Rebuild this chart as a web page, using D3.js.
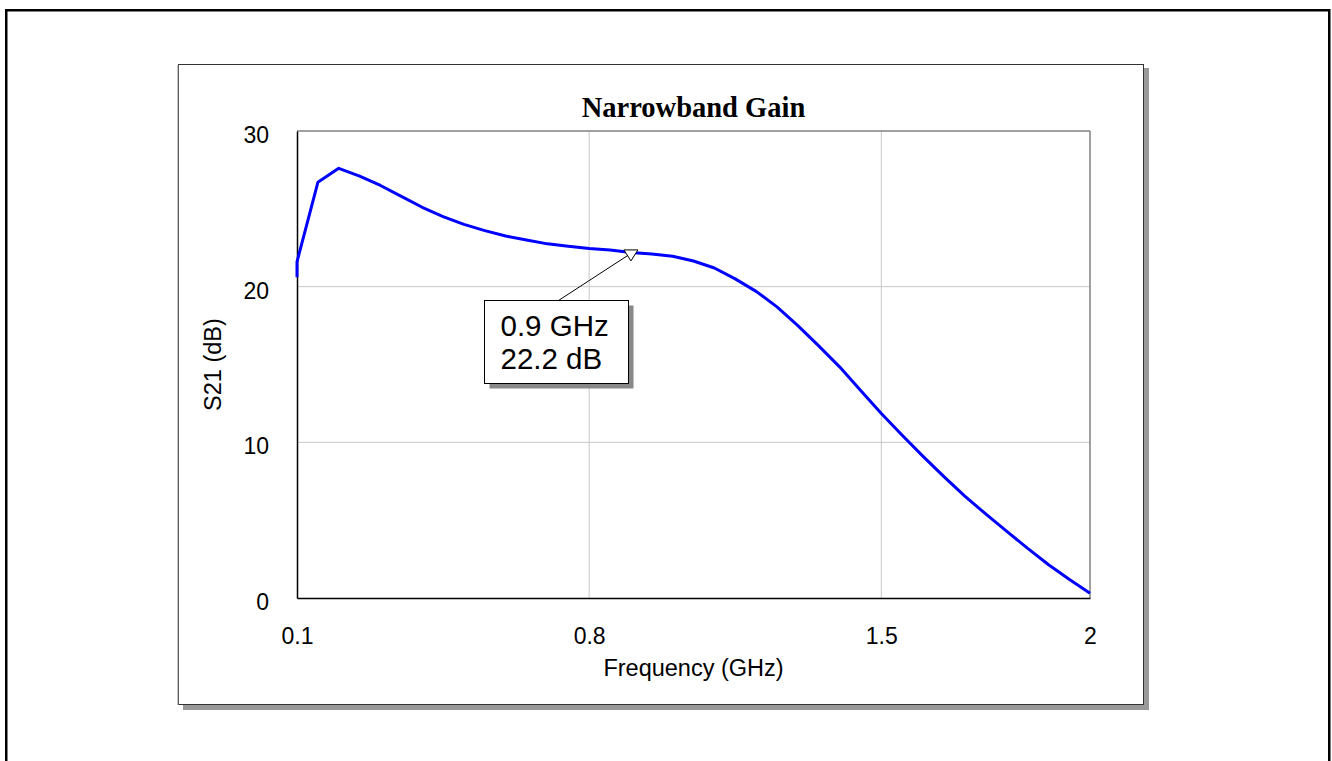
<!DOCTYPE html>
<html>
<head>
<meta charset="utf-8">
<script src="https://cdn.jsdelivr.net/npm/d3@7"></script>
<style>
  html, body { margin: 0; padding: 0; background: #fff; }
  svg { display: block; }
</style>
</head>
<body>
<svg id="chart" width="1332" height="761"></svg>
<script>
// ---- data ----
const freqGHz = [0.1, 0.1, 0.15, 0.2, 0.25, 0.3, 0.35, 0.4, 0.45, 0.5, 0.55, 0.6, 0.65, 0.7, 0.75, 0.8, 0.85, 0.9, 0.95, 1.0,
                 1.05, 1.1, 1.15, 1.2, 1.25, 1.3, 1.35, 1.4, 1.45, 1.5, 1.55, 1.6, 1.65, 1.7, 1.75, 1.8, 1.85, 1.9, 1.95, 2.0];
const s21dB = [20.6, 21.6, 26.7, 27.6, 27.1, 26.5, 25.8, 25.1, 24.5, 24.0, 23.6, 23.25, 23.0, 22.75, 22.6, 22.45, 22.35, 22.2, 22.1, 21.95,
               21.65, 21.2, 20.5, 19.7, 18.7, 17.5, 16.2, 14.85, 13.35, 11.85, 10.45, 9.1, 7.8, 6.55, 5.4, 4.3, 3.2, 2.15, 1.2, 0.3];
const xTicks = [0.1, 0.8, 1.5, 2];
const yTicks = [0, 10, 20, 30];
const xDomain = [0.1, 2];
const yDomain = [0, 30];
const titleText = "Narrowband Gain";
const xLabel = "Frequency (GHz)";
const yLabel = "S21 (dB)";
const markerFreq = 0.9;
const markerValue = 22.2;
const markerLines = ["0.9 GHz", "22.2 dB"];

// ---- layout ----
const svg = d3.select("#chart");
const plot = { left: 297, top: 131, right: 1090, bottom: 598 };
const x = d3.scaleLinear().domain(xDomain).range([plot.left, plot.right]);
const y = d3.scaleLinear().domain(yDomain).range([plot.bottom, plot.top]);

// outer border
svg.append("rect").attr("x", 6.25).attr("y", 10.25).attr("width", 1323).attr("height", 800)
  .attr("fill", "none").attr("stroke", "#000").attr("stroke-width", 2.5);

// inner frame shadow and frame
svg.append("rect").attr("x", 183).attr("y", 68).attr("width", 966).attr("height", 642).attr("fill", "#999");
svg.append("rect").attr("x", 178.5).attr("y", 64.5).attr("width", 965).attr("height", 640)
  .attr("fill", "#fff").attr("stroke", "#333").attr("stroke-width", 1);
svg.append("line").attr("x1", 178).attr("x2", 178).attr("y1", 65).attr("y2", 705)
  .attr("stroke", "#888").attr("stroke-width", 1);

// title
svg.append("text").attr("x", (plot.left + plot.right) / 2).attr("y", 117)
  .attr("text-anchor", "middle").attr("font-family", "Liberation Serif, Times New Roman, serif")
  .attr("font-weight", "bold").attr("font-size", 28.5).text(titleText);

// grid
const grid = svg.append("g");
grid.selectAll(".gx").data(xTicks.filter(t => t !== xDomain[0] && t !== xDomain[1])).enter()
  .append("line").attr("x1", d => x(d)).attr("x2", d => x(d)).attr("y1", plot.top).attr("y2", plot.bottom)
  .attr("stroke", "#c8c8c8").attr("stroke-width", 1);
grid.selectAll(".gy").data(yTicks.filter(t => t !== yDomain[0] && t !== yDomain[1])).enter()
  .append("line").attr("x1", plot.left).attr("x2", plot.right).attr("y1", d => y(d)).attr("y2", d => y(d))
  .attr("stroke", "#c8c8c8").attr("stroke-width", 1);

// plot frame: top & right gray, left & bottom black
svg.append("line").attr("x1", plot.left).attr("x2", plot.right).attr("y1", plot.top).attr("y2", plot.top)
  .attr("stroke", "#808080").attr("stroke-width", 1.5);
svg.append("line").attr("x1", plot.right).attr("x2", plot.right).attr("y1", plot.top).attr("y2", plot.bottom)
  .attr("stroke", "#808080").attr("stroke-width", 1.5);

// axes (using d3 axes, no tick lines)
const fontSans = "Liberation Sans, Arial, sans-serif";
const xAxis = d3.axisBottom(x).tickValues(xTicks).tickSize(0).tickPadding(30).tickFormat(d3.format("~g"));
const gx = svg.append("g").attr("transform", `translate(0,${plot.bottom})`).call(xAxis);
gx.select(".domain").attr("stroke", "#000").attr("stroke-width", 1.5);
gx.selectAll("text").attr("font-family", fontSans).attr("font-size", 23).attr("fill", "#000").attr("dy", "0.71em");

const yAxis = d3.axisLeft(y).tickValues(yTicks).tickSize(0).tickPadding(28).tickFormat(d3.format("~g"));
const gy = svg.append("g").attr("transform", `translate(${plot.left},0)`).call(yAxis);
gy.select(".domain").attr("stroke", "#000").attr("stroke-width", 1.5);
gy.selectAll("text").attr("font-family", fontSans).attr("font-size", 23).attr("fill", "#000").attr("dy", "0.5em");

// axis titles
svg.append("text").attr("x", (plot.left + plot.right) / 2).attr("y", 676)
  .attr("text-anchor", "middle").attr("font-family", fontSans).attr("font-size", 23.5).text(xLabel);
svg.append("text").attr("transform", `translate(221,${(plot.top + plot.bottom) / 2}) rotate(-90)`)
  .attr("text-anchor", "middle").attr("font-family", fontSans).attr("font-size", 23.5).text(yLabel);

// curve
const line = d3.line().x((d, i) => x(freqGHz[i])).y(d => y(d));
svg.append("path").datum(s21dB).attr("d", line).attr("fill", "none")
  .attr("stroke", "#0000ff").attr("stroke-width", 3).attr("stroke-linejoin", "round");

// marker annotation
const mx = x(markerFreq), my = y(markerValue);
const box = { x: 484.5, y: 300.5, w: 144, h: 83 };
svg.append("line").attr("x1", box.x + 74).attr("y1", box.y).attr("x2", mx).attr("y2", my + 1)
  .attr("stroke", "#000").attr("stroke-width", 1);
svg.append("path")
  .attr("d", `M${mx - 7},${my - 2.5} L${mx + 7},${my - 2.5} L${mx},${my + 8.5} Z`)
  .attr("fill", "#fff").attr("stroke", "#000").attr("stroke-width", 1);
svg.append("rect").attr("x", box.x + 5).attr("y", box.y + 5).attr("width", box.w).attr("height", box.h).attr("fill", "#888");
svg.append("rect").attr("x", box.x).attr("y", box.y).attr("width", box.w).attr("height", box.h)
  .attr("fill", "#fff").attr("stroke", "#000").attr("stroke-width", 1);
svg.append("g").selectAll("text").data(markerLines).enter().append("text")
  .attr("x", box.x + 16).attr("y", (d, i) => box.y + 35 + i * 33)
  .attr("font-family", fontSans).attr("font-size", 29.5).attr("fill", "#000").text(d => d);
</script>
</body>
</html>
